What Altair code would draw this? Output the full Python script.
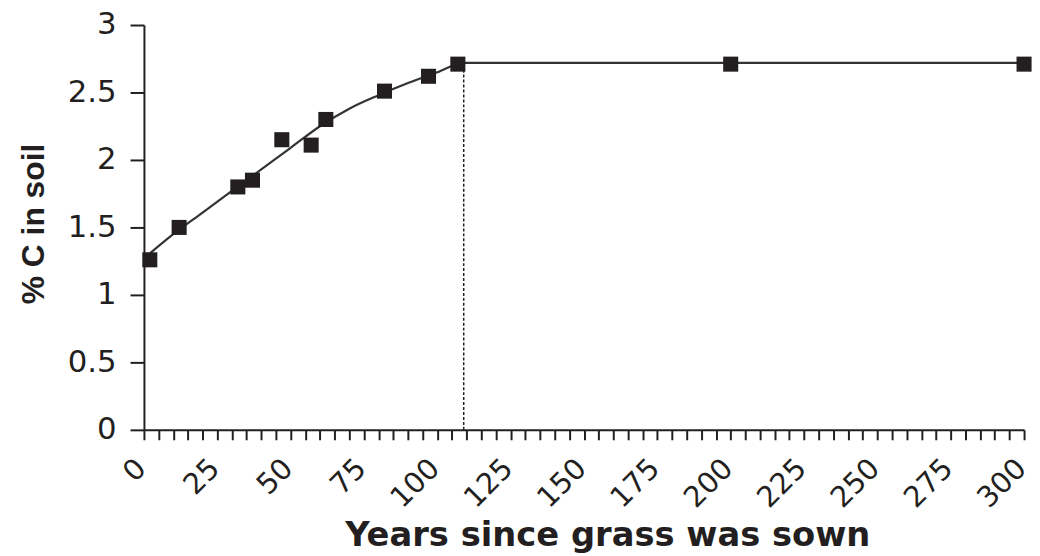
import altair as alt
import pandas as pd

# Observed data points (years since sowing, % C in soil)
years = [2, 12, 32, 37, 47, 57, 62, 82, 97, 107, 200, 300]
pct_c = [1.26, 1.50, 1.80, 1.85, 2.15, 2.11, 2.30, 2.51, 2.62, 2.71, 2.71, 2.71]

# Fitted curve
curve_x = [0, 10, 20, 30, 40, 50, 60, 70, 80, 90, 100, 109, 300]
curve_y = [1.27, 1.45, 1.61, 1.77, 1.93, 2.09, 2.25, 2.38, 2.48, 2.57, 2.65, 2.72, 2.72]

# Plateau marker (dashed drop line)
plateau_year = [109]
plateau_val = [2.72]

x_ticks = list(range(0, 301, 5))
y_ticks = [0, 0.5, 1, 1.5, 2, 2.5, 3]

pts = pd.DataFrame({"year": years, "c": pct_c})
curve = pd.DataFrame({"year": curve_x, "c": curve_y})
plateau = pd.DataFrame({"year": plateau_year, "c": plateau_val, "zero": [0]})

FONT = "DejaVu Sans"
INK = "#231f20"

x_scale = alt.Scale(domain=[0, 300], nice=False, zero=False)
y_scale = alt.Scale(domain=[0, 3], nice=False)

x_axis = alt.Axis(
    values=x_ticks,
    labelExpr="datum.value % 25 == 0 ? datum.label : ''",
    labelAngle=-45,
    labelAlign="right",
    labelBaseline="middle",
    labelFontSize=29,
    labelFont=FONT,
    labelColor=INK,
    labelPadding=24,
    labelOffset=-3,
    labelOverlap=False,
    labelBound=False,
    labelFlush=False,
    tickSize=10,
    tickColor=INK,
    tickWidth=2,
    domainColor=INK,
    domainWidth=2,
    grid=False,
    title="Years since grass was sown",
    titleFont=FONT,
    titleFontSize=34,
    titleFontWeight="bold",
    titleColor=INK,
    titleBaseline="alphabetic",
    titleX=467,
    titleY=117,
)

y_axis = alt.Axis(
    values=y_ticks,
    format="~g",
    labelFontSize=31,
    labelFont=FONT,
    labelColor=INK,
    labelPadding=14,
    tickSize=14,
    tickColor=INK,
    tickWidth=2,
    domainColor=INK,
    domainWidth=2,
    grid=False,
    title="% C in soil",
    titleFont="Liberation Sans",
    titleFontSize=32,
    titleFontWeight="bold",
    titleColor=INK,
    titleBaseline="middle",
    titleX=-111,
    titleY=200,
)

X = alt.X("year:Q", scale=x_scale, axis=x_axis)
Y = alt.Y("c:Q", scale=y_scale, axis=y_axis)

line = alt.Chart(curve).mark_line(color="#333333", strokeWidth=2.2, interpolate="monotone").encode(
    x=X,
    y=Y,
)

rule = alt.Chart(plateau).mark_rule(color=INK, strokeWidth=1.5, strokeDash=[3, 2]).encode(
    x=X,
    y=alt.Y("zero:Q", scale=y_scale, axis=y_axis),
    y2="c:Q",
)

points = alt.Chart(pts).mark_point(shape="square", filled=True, size=230, color=INK, opacity=1).encode(
    x=X,
    y=Y,
)

chart = alt.layer(line, rule, points).properties(
    width=887,
    height=408,
    autosize=alt.AutoSizeParams(type="none"),
    padding={"left": 137, "top": 15, "right": 8, "bottom": 125},
    background="white",
).configure_view(stroke=None)

chart.save("out.html", embed_options={"renderer": "svg", "actions": False})
